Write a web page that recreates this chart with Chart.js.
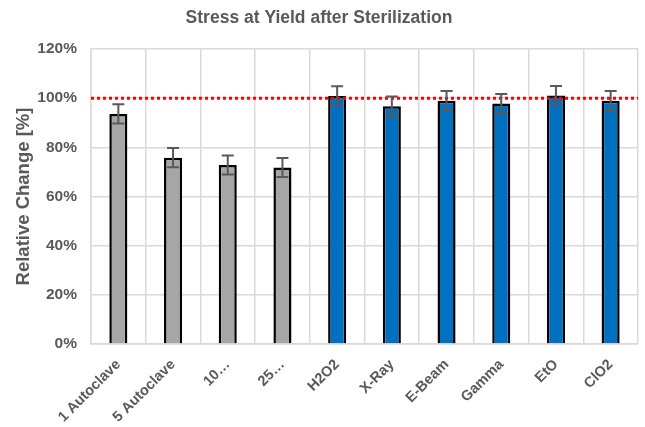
<!DOCTYPE html>
<html lang="en">
<head>
<meta charset="UTF-8">
<title>Stress at Yield after Sterilization</title>
<script src="https://cdn.jsdelivr.net/npm/chart.js"></script>
<style>
  html, body { margin: 0; padding: 0; background: #fff; }
  .wrap { width: 645px; height: 427px; position: relative; }
</style>
</head>
<body>
<div class="wrap"><canvas id="yieldChart"></canvas></div>
<script>
// data
const categories = ['1 Autoclave', '5 Autoclave', '10\u2026', '25\u2026', 'H2O2', 'X-Ray', 'E-Beam', 'Gamma', 'EtO', 'ClO2'];
const relChange = [93.6, 75.8, 72.8, 71.8, 100.9, 96.7, 98.9, 97.8, 101.1, 98.9];
const errors = [3.9, 3.9, 3.9, 3.9, 3.9, 4.0, 4.0, 3.9, 3.9, 4.0];
const barColors = ['#a6a6a6', '#a6a6a6', '#a6a6a6', '#a6a6a6', '#0070c0', '#0070c0', '#0070c0', '#0070c0', '#0070c0', '#0070c0'];
const refLine = 100;

const textGray = '#595959';
const fontFam = 'Arial, "Liberation Sans"';

// error bars + red dotted reference line
const extras = {
  id: 'extras',
  afterDatasetsDraw(chart) {
    const { ctx, chartArea, scales: { x, y } } = chart;
    ctx.save();
    // reference line
    ctx.strokeStyle = '#ff0000';
    ctx.lineWidth = 3;
    ctx.setLineDash([3, 3]);
    const yr = y.getPixelForValue(refLine);
    ctx.beginPath();
    ctx.moveTo(chartArea.left, yr);
    ctx.lineTo(chartArea.right, yr);
    ctx.stroke();
    ctx.setLineDash([]);
    // error bars
    ctx.strokeStyle = '#595959';
    ctx.lineWidth = 2;
    relChange.forEach((v, i) => {
      const cx = x.getPixelForValue(i);
      const yTop = y.getPixelForValue(v + errors[i]);
      const yBot = y.getPixelForValue(v - errors[i]);
      ctx.beginPath();
      ctx.moveTo(cx, yTop); ctx.lineTo(cx, yBot);
      ctx.moveTo(cx - 6, yTop); ctx.lineTo(cx + 6, yTop);
      ctx.moveTo(cx - 6, yBot); ctx.lineTo(cx + 6, yBot);
      ctx.stroke();
    });
    ctx.restore();
  }
};

new Chart(document.getElementById('yieldChart'), {
  type: 'bar',
  data: {
    labels: categories,
    datasets: [{
      data: relChange,
      backgroundColor: barColors,
      borderColor: '#000',
      borderWidth: 2.5,
      barPercentage: 0.33,
      categoryPercentage: 1
    }]
  },
  options: {
    responsive: true,
    maintainAspectRatio: false,
    animation: false,
    layout: { padding: { left: 0, right: 7, top: 0, bottom: 0 } },
    plugins: {
      legend: { display: false },
      tooltip: { enabled: false },
      title: {
        display: true,
        text: 'Stress at Yield after Sterilization',
        color: textGray,
        font: { family: fontFam, size: 17.5, weight: 'bold' },
        padding: { top: 8, bottom: 20 }
      }
    },
    scales: {
      x: {
        grid: { color: '#d9d9d9', lineWidth: 1.5, offset: true, drawTicks: false },
        border: { color: '#d9d9d9', width: 1.5 },
        ticks: {
          color: textGray,
          font: { family: fontFam, size: 14.5, weight: 'bold' },
          minRotation: 45, maxRotation: 45, autoSkip: false, padding: 12
        },
        afterFit(scale) { scale.height = 83; }
      },
      y: {
        min: 0, max: 120,
        grid: { color: '#d9d9d9', lineWidth: 1.5, drawTicks: false },
        border: { color: '#d9d9d9', width: 1.5 },
        ticks: {
          stepSize: 20,
          color: textGray,
          padding: 14,
          font: { family: fontFam, size: 15.5, weight: 'bold' },
          callback: v => v + '%'
        },
        title: {
          display: true,
          text: 'Relative Change [%]',
          color: textGray,
          font: { family: fontFam, size: 18.5, weight: 'bold' },
          padding: { top: 13, bottom: 4 }
        },
        afterFit(scale) { scale.width = 91; }
      }
    }
  },
  plugins: [extras]
});
</script>
</body>
</html>
